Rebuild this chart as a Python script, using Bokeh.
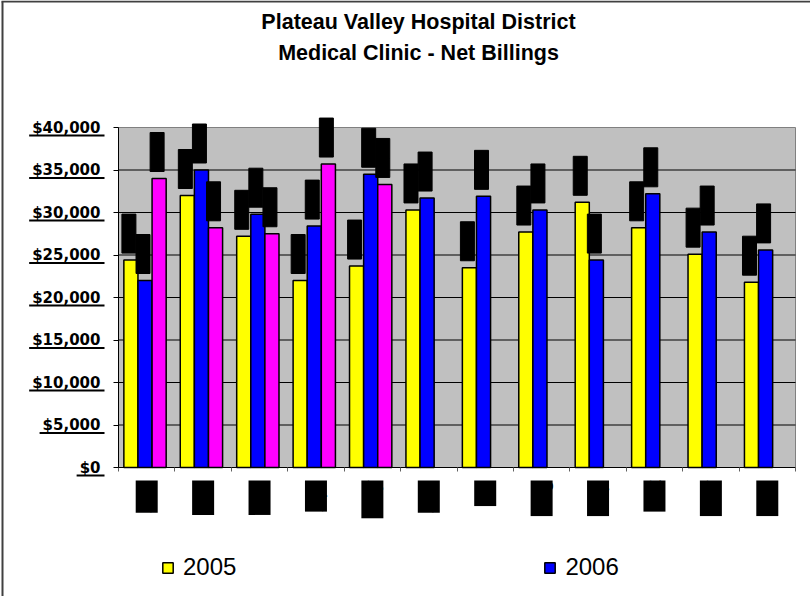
from bokeh.plotting import figure
from bokeh.models import (ColumnDataSource, Range1d, FixedTicker, NumeralTickFormatter,
                          LabelSet, Label, BoxAnnotation, Legend, LegendItem)
from bokeh.embed import file_html
from bokeh.resources import INLINE

# ---------------- data ----------------
title_lines = ["Plateau Valley Hospital District", "Medical Clinic - Net Billings"]
months = ["Jan", "Feb", "Mar", "Apr", "May", "Jun", "Jul", "Aug", "Sep", "Oct", "Nov", "Dec"]
series_names = ["2005", "2006", "2007"]
billing_2005 = [24400, 32000, 27200, 22000, 23700, 30300, 23500, 27700, 31200, 28200, 25100, 21800]
billing_2006 = [22000, 35000, 29800, 28400, 34500, 31700, 31900, 30300, 24400, 32200, 27700, 25600]
billing_2007 = [34000, 28200, 27500, 35700, 33300]
legend_series = ["2005", "2006"]
y_ticks = [0, 5000, 10000, 15000, 20000, 25000, 30000, 35000, 40000]

# ---------------- styles / layout ----------------
W, H = 810, 596
FL, FR, FT, FB = 118, 795, 127, 467          # plot-area box on the canvas (px)
Y_MAX = 40000
N = len(months)
PX_X = (FR - FL) / N
PX_Y = (FB - FT) / Y_MAX
colors = ["#FFFF00", "#0000FF", "#FF00FF"]
offsets = [-0.28, -0.03, 0.22]
BAR_W = 0.25
FONT = "Liberation Sans"

x_rng = Range1d(-FL / PX_X, N + (W - FR) / PX_X)
y_rng = Range1d(-(H - FB) / PX_Y, Y_MAX + FT / PX_Y)

p = figure(width=W, height=H, output_backend="svg", toolbar_location=None,
           x_range=x_rng, y_range=y_rng, min_border=0,
           min_border_left=0, min_border_right=0, min_border_top=0, min_border_bottom=0)
p.background_fill_color = "white"
p.border_fill_color = "white"
p.outline_line_color = None
p.xgrid.visible = False
p.ygrid.visible = False

# plot area background + gridlines
p.quad(left=[0], right=[N], bottom=[0], top=[Y_MAX], fill_color="#C0C0C0",
       line_color="#808080", line_width=1)
grid_vals = y_ticks[1:-1]
p.segment(x0=[0] * len(grid_vals), x1=[N] * len(grid_vals), y0=grid_vals, y1=grid_vals,
          line_color="black", line_width=1)

# axes, fixed at the plot-area edges
p.yaxis.fixed_location = 0
p.yaxis.bounds = (0, Y_MAX)
p.yaxis.ticker = FixedTicker(ticks=y_ticks)
p.yaxis.formatter = NumeralTickFormatter(format="$0,0")
p.yaxis.major_label_text_font = "DejaVu Sans"
p.yaxis.major_label_text_font_style = "bold"
p.yaxis.major_label_text_font_size = "15px"
p.yaxis.major_label_text_color = "black"
p.yaxis.major_tick_out = 5
p.yaxis.major_tick_in = 0
p.yaxis.minor_tick_line_color = None
p.yaxis.major_label_standoff = 13
p.yaxis.axis_line_color = "black"
p.yaxis.major_tick_line_color = "black"

p.xaxis.fixed_location = 0
p.xaxis.bounds = (0, N)
p.xaxis.ticker = FixedTicker(ticks=list(range(N + 1)))
p.xaxis.major_label_overrides = {i: "" for i in range(N + 1)}
p.xaxis.major_tick_out = 4
p.xaxis.major_tick_in = 0
p.xaxis.minor_tick_line_color = None
p.xaxis.axis_line_color = "black"
p.xaxis.major_tick_line_color = "#606060"

# bars + value labels
all_series = [billing_2005, billing_2006, billing_2007]
renderers = []
for k, (name, vals) in enumerate(zip(series_names, all_series)):
    xs = [i + 0.5 + offsets[k] for i in range(len(vals))]
    src = ColumnDataSource(dict(x=xs, top=vals, txt=["${:,}".format(v) for v in vals]))
    r = p.vbar(x="x", top="top", width=BAR_W, bottom=0, source=src,
               fill_color=colors[k], line_color="black", line_width=1.5)
    renderers.append(r)
    ls = LabelSet(x="x", y="top", text="txt", source=src, angle=90, angle_units="deg",
                  text_align="left", text_baseline="middle", x_offset=-2, y_offset=7,
                  text_font="DejaVu Sans", text_font_size="12px", text_color="black",
                  background_fill_color="black", border_line_color="black", border_line_width=1)
    p.add_layout(ls)

# category (month) labels below the axis
for i, m in enumerate(months):
    p.add_layout(Label(x=i + 0.5, y=H - 480, x_units="data", y_units="screen", text=m,
                       angle=90, angle_units="deg", text_align="right", text_baseline="middle",
                       text_font=FONT, text_font_size="20px", text_color="black",
                       background_fill_color="black"))

# title
for j, t in enumerate(title_lines):
    p.add_layout(Label(x=418, y=H - (21 + 31 * j), x_units="screen", y_units="screen",
                       text=t, text_align="center", text_baseline="middle",
                       text_font=FONT, text_font_style="bold", text_font_size="21.5px",
                       text_color="black"))

# underlines under the y tick labels (Excel number-format artefact)
for t in y_ticks:
    s = "${:,}".format(t)
    n_dig = sum(c.isdigit() for c in s) + 1
    n_com = s.count(",")
    wpx = n_dig * 0.696 * 15 + n_com * 0.38 * 15
    ty = FB - t * PX_Y
    p.add_layout(BoxAnnotation(left=100 - wpx - 3, right=104, bottom=H - (ty + 9), top=H - (ty + 7),
                               left_units="screen", right_units="screen",
                               top_units="screen", bottom_units="screen",
                               fill_color="black", fill_alpha=1, line_color=None))

# outer chart border (only left and top edges fall inside the picture)
p.add_layout(BoxAnnotation(left=1, right=3, bottom=0, top=H - 1,
                           left_units="screen", right_units="screen",
                           top_units="screen", bottom_units="screen",
                           fill_color="#404040", fill_alpha=1, line_color=None))
p.add_layout(BoxAnnotation(left=1, right=W, bottom=H - 2, top=H,
                           left_units="screen", right_units="screen",
                           top_units="screen", bottom_units="screen",
                           fill_color="#404040", fill_alpha=1, line_color=None))

# legend (only 2005 and 2006 shown, as in the source)
legend = Legend(items=[LegendItem(label=legend_series[0], renderers=[renderers[0]]),
                       LegendItem(label=legend_series[1], renderers=[renderers[1]])],
                orientation="horizontal", location=(161, H - 567 - 14), spacing=307,
                glyph_width=13, glyph_height=13, label_standoff=9,
                label_text_font=FONT, label_text_font_size="24px", label_text_color="black",
                border_line_color=None, background_fill_alpha=0, padding=0, margin=0)
p.add_layout(legend)

open("out.html", "w").write(file_html(p, INLINE))
